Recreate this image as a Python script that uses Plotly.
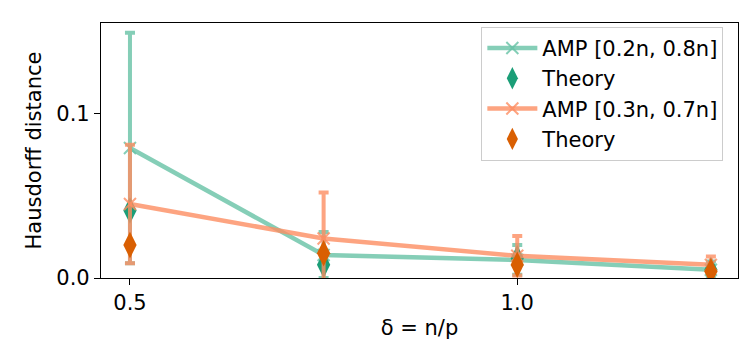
import plotly.graph_objects as go

delta = [0.5, 0.75, 1.0, 1.25]

# AMP, interval [0.2n, 0.8n]
amp_a = [0.079, 0.014, 0.011, 0.005]
amp_a_err = [0.070, 0.014, 0.009, 0.005]
theory_a = [0.041, 0.008, 0.012, 0.005]

# AMP, interval [0.3n, 0.7n]
amp_b = [0.045, 0.024, 0.0135, 0.008]
amp_b_err = [0.036, 0.028, 0.012, 0.005]
theory_b = [0.020, 0.015, 0.008, 0.004]

green_line = "rgba(102,194,165,0.8)"
orange_line = "rgba(252,141,98,0.8)"

fig = go.Figure()

fig.add_trace(go.Scatter(
    x=delta, y=amp_a, name="AMP [0.2n, 0.8n]", mode="lines+markers",
    line=dict(color=green_line, width=4.5),
    marker=dict(symbol="x-thin-open", size=12, line=dict(color=green_line, width=2)),
    error_y=dict(type="data", array=amp_a_err, color=green_line, thickness=4, width=5),
))
fig.add_trace(go.Scatter(
    x=delta, y=theory_a, name="Theory", mode="markers",
    marker=dict(symbol="diamond-tall", size=19, color="#1b9e77"),
))
fig.add_trace(go.Scatter(
    x=delta, y=amp_b, name="AMP [0.3n, 0.7n]", mode="lines+markers",
    line=dict(color=orange_line, width=4.5),
    marker=dict(symbol="x-thin-open", size=12, line=dict(color=orange_line, width=2)),
    error_y=dict(type="data", array=amp_b_err, color=orange_line, thickness=4, width=5),
))
fig.add_trace(go.Scatter(
    x=delta, y=theory_b, name="Theory", mode="markers",
    marker=dict(symbol="diamond-tall", size=19, color="#d95f02"),
))

fig.update_layout(
    width=748, height=350,
    margin=dict(l=93, r=18, t=15, b=80),
    plot_bgcolor="white", paper_bgcolor="white",
    font=dict(family="DejaVu Sans", size=21, color="black"),
    showlegend=True,
    legend=dict(x=0.977, y=0.985, xanchor="right", yanchor="top",
                bordercolor="#cccccc", borderwidth=1, bgcolor="rgba(255,255,255,0.8)",
                font=dict(size=21), tracegroupgap=0, itemwidth=50),
)
fig.update_xaxes(
    range=[0.4626, 1.285], tickvals=[0.5, 1.0], ticktext=["0.5", "1.0"],
    tickfont=dict(size=21),
    showgrid=False, zeroline=False, showline=True, linecolor="black", linewidth=1.2,
    mirror=True, ticks="outside", ticklen=6, tickcolor="black",
    title=dict(text="δ = n/p", standoff=6, font=dict(size=21)),
)
fig.update_yaxes(
    range=[0, 0.155], tickvals=[0.0, 0.1], ticktext=["0.0", "0.1"],
    tickfont=dict(size=21),
    showgrid=False, zeroline=False, showline=True, linecolor="black", linewidth=1.2,
    mirror=True, ticks="outside", ticklen=6, tickcolor="black",
    title=dict(text="Hausdorff distance", standoff=8, font=dict(size=21)),
)

fig.write_html("out.html")
